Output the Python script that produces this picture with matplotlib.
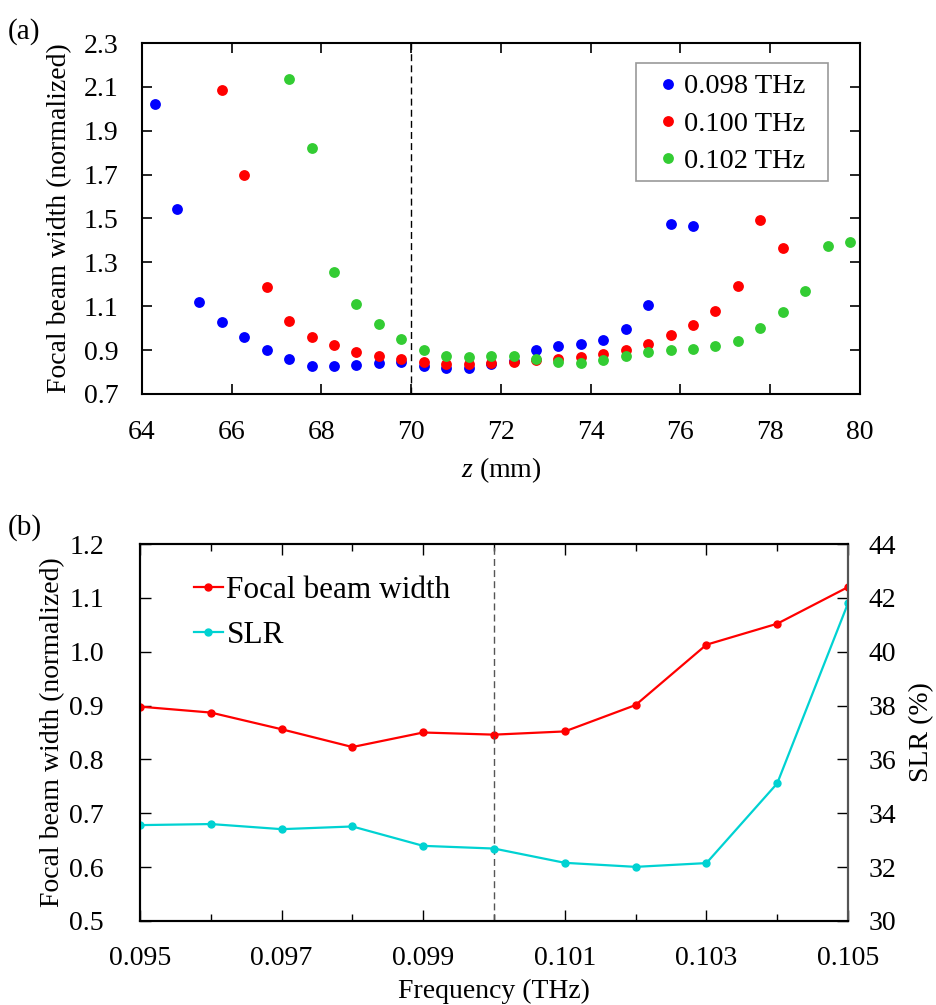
import numpy as np
import matplotlib
matplotlib.use('Agg')
import matplotlib.pyplot as plt
from matplotlib.patches import Rectangle
from matplotlib.ticker import MultipleLocator, FixedLocator, FormatStrFormatter

plt.rcParams['font.family'] = ['Liberation Serif', 'DejaVu Serif']
plt.rcParams['mathtext.fontset'] = 'custom'
plt.rcParams['mathtext.it'] = 'Liberation Serif:italic'

# (a) focal beam width vs z
blue_z = [64.28, 64.78, 65.28, 65.78, 66.28, 66.78, 67.28, 67.78, 68.28, 68.78,
          69.28, 69.78, 70.28, 70.78, 71.28, 71.78, 72.28, 72.78, 73.28, 73.78,
          74.28, 74.78, 75.28, 75.78, 76.28]
blue_w = [2.024, 1.542, 1.12, 1.026, 0.96, 0.9, 0.858, 0.829, 0.826, 0.833,
          0.84, 0.844, 0.827, 0.82, 0.82, 0.836, 0.85, 0.9, 0.92, 0.93,
          0.947, 0.995, 1.105, 1.476, 1.464]

red_z = [65.78, 66.28, 66.78, 67.28, 67.78, 68.28, 68.78, 69.28, 69.78, 70.28,
         70.78, 71.28, 71.78, 72.28, 72.78, 73.28, 73.78, 74.28, 74.78, 75.28,
         75.78, 76.28, 76.78, 77.28, 77.78, 78.28]
red_w = [2.086, 1.699, 1.188, 1.033, 0.96, 0.921, 0.891, 0.873, 0.858, 0.847,
         0.835, 0.835, 0.84, 0.844, 0.855, 0.859, 0.867, 0.882, 0.902, 0.93,
         0.967, 1.014, 1.077, 1.191, 1.495, 1.365]

green_z = [67.28, 67.78, 68.28, 68.78, 69.28, 69.78, 70.28, 70.78, 71.28, 71.78,
           72.28, 72.78, 73.28, 73.78, 74.28, 74.78, 75.28, 75.78, 76.28, 76.78,
           77.28, 77.78, 78.28, 78.78, 79.28, 79.78]
green_w = [2.135, 1.823, 1.256, 1.109, 1.018, 0.951, 0.9, 0.873, 0.87, 0.874,
           0.871, 0.859, 0.844, 0.841, 0.853, 0.871, 0.891, 0.9, 0.903, 0.917,
           0.942, 0.999, 1.073, 1.168, 1.373, 1.392]
a_yticks = [0.7, 0.9, 1.1, 1.3, 1.5, 1.7, 1.9, 2.1, 2.3]

# (b) focal beam width and SLR vs frequency
freq = [0.095, 0.096, 0.097, 0.098, 0.099, 0.100, 0.101, 0.102, 0.103, 0.104, 0.105]
fbw = [0.898, 0.887, 0.856, 0.823, 0.850, 0.846, 0.852, 0.901, 1.013, 1.052, 1.120]
slr = [33.56, 33.60, 33.41, 33.51, 32.79, 32.69, 32.16, 32.01, 32.15, 35.11, 41.80]
b_xticks = [0.095, 0.097, 0.099, 0.101, 0.103, 0.105]

fig = plt.figure(figsize=(9.36, 10.05), dpi=100)

# ---------- (a)
ax = fig.add_axes([0.1517, 0.608, 0.7671, 0.3492])
ms = 7.8
ax.plot(blue_z, blue_w, 'o', color='#0000ff', ms=ms, mec='none', label='0.098 THz')
ax.plot(red_z, red_w, 'o', color='#ff0000', ms=ms, mec='none', label='0.100 THz')
ax.plot(green_z, green_w, 'o', color='#33cc33', ms=ms, mec='none', label='0.102 THz')
ax.axvline(70, color='black', ls=(0, (5, 3)), lw=1.0)
ax.set_xlim(64, 80)
ax.set_ylim(0.7, 2.3)
ax.xaxis.set_major_locator(MultipleLocator(2))
ax.yaxis.set_major_locator(FixedLocator(a_yticks))
ax.yaxis.set_major_formatter(FormatStrFormatter('%.1f'))
ax.tick_params(direction='in', top=True, right=True, length=7, width=1.2,
               labelsize=20)
ax.tick_params(axis='y', pad=17)
ax.tick_params(axis='x', pad=19)
for s in ax.spines.values():
    s.set_linewidth(1.5)
ax.set_xlabel('$z$ (mm)', fontsize=20)
ax.set_ylabel('Focal beam width (normalized)', fontsize=20)
ax.xaxis.set_label_coords(0.5, -0.175)
ax.yaxis.set_label_coords(-0.098, 0.5)

# legend box drawn separately (wide side padding like the original)
ax.add_patch(Rectangle((0.688, 0.607), 0.267, 0.336, transform=ax.transAxes,
                       facecolor='white', edgecolor='#999999', lw=1.2,
                       zorder=4, clip_on=False))
leg = ax.legend(loc='upper left', fontsize=20.5, frameon=False,
                handlelength=0.5, handletextpad=0.3, borderpad=0,
                labelspacing=0.4, borderaxespad=0, bbox_to_anchor=(0.723, 0.913))
leg.set_zorder(5)
fig.text(0.008, 0.962, '(a)', fontsize=21)

# ---------- (b)
bx = fig.add_axes([0.1496, 0.0836, 0.7564, 0.3751])
l1, = bx.plot(freq, fbw, '-o', color='#ff0000', lw=1.6, ms=5, label='Focal beam width')
bx.axvline(0.100, color='#555555', ls=(0, (5, 3)), lw=1.0)
bx.set_xlim(0.095, 0.105)
bx.set_ylim(0.5, 1.2)
bx.xaxis.set_major_locator(FixedLocator(b_xticks))
bx.xaxis.set_minor_locator(MultipleLocator(0.001))
bx.xaxis.set_major_formatter(FormatStrFormatter('%.3f'))
bx.yaxis.set_major_locator(MultipleLocator(0.1))
bx.yaxis.set_major_formatter(FormatStrFormatter('%.1f'))
bx.tick_params(which='major', direction='in', top=True, length=8, width=1.0,
               labelsize=20)
bx.tick_params(which='minor', direction='in', top=True, length=5, width=1.0)
bx.tick_params(axis='y', pad=26)
bx.tick_params(axis='x', pad=18)
bx.set_xlabel('Frequency (THz)', fontsize=20)
bx.set_ylabel('Focal beam width (normalized)', fontsize=20)
bx.xaxis.set_label_coords(0.5, -0.153)
bx.yaxis.set_label_coords(-0.106, 0.5)

bx2 = bx.twinx()
l2, = bx2.plot(freq, slr, '-o', color='#00d2d2', lw=1.6, ms=5, label='SLR')
bx2.set_ylim(30, 44)
bx2.yaxis.set_major_locator(MultipleLocator(2))
bx2.tick_params(direction='in', length=8, width=1.0, labelsize=20, pad=15)
bx2.set_ylabel('SLR (%)', fontsize=20)
bx2.yaxis.set_label_coords(1.086, 0.5)
for s in list(bx.spines.values()) + list(bx2.spines.values()):
    s.set_linewidth(1.5)
bx2.spines['right'].set_color('#555555')

bx.legend([l1, l2], ['Focal beam width', 'SLR'], loc='upper left', frameon=False,
          fontsize=22.5, handlelength=0.95, handletextpad=0.1, labelspacing=0.5,
          bbox_to_anchor=(0.036, 0.99))
fig.text(0.008, 0.468, '(b)', fontsize=21)

fig.savefig('out.png', dpi=100)
